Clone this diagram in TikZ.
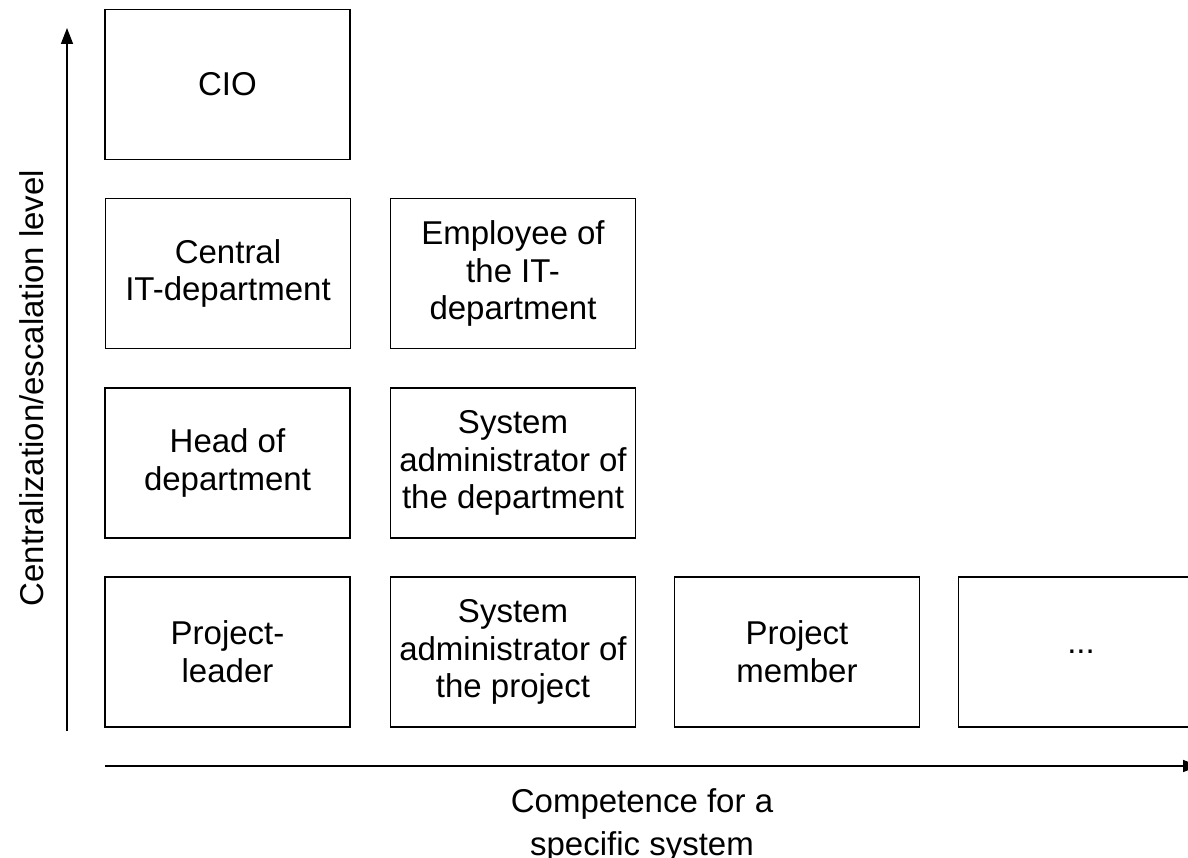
\documentclass[tikz,border=0pt]{standalone}
\usepackage{fontspec}
\setmainfont{Liberation Sans}
\usetikzlibrary{arrows.meta}
\begin{document}
\begin{tikzpicture}[x=1pt,y=-1pt,
  role/.style={draw,line width=1.6pt,minimum width=245pt,minimum height=150pt,
    inner sep=0pt,align=center,font=\fontsize{33}{37.8}\selectfont},
  axis/.style={line width=1.6pt,-{Triangle[length=16pt,width=12pt]}},
  axislabel/.style={font=\fontsize{33}{43}\selectfont,align=center}]
\useasboundingbox (0,0) rectangle (1188,858);
\clip (0,0) rectangle (1188,858);
% top row
\node[role] (cio) at (227.5,84.5) {CIO};
% second row
\node[role] (central) at (228,273.5) {Central\\IT-department};
\node[role] (employee) at (513,273.5) {Employee of\\the IT-\\department};
% third row
\node[role] (head) at (227.5,463) {Head of\\department};
\node[role] (sysdept) at (513,463) {System\\administrator of\\the department};
% bottom row
\node[role] (leader) at (227.5,652) {Project-\\leader};
\node[role] (sysproj) at (513,652) {System\\administrator of\\the project};
\node[role] (member) at (797,652) {Project\\member};
\node[role] (more) at (1081,652) {...};
% axes
\coordinate (ybase) at (67,731);
\coordinate (ytop) at (67,28);
\draw[axis] (ybase) -- (ytop);
\coordinate (xbase) at (105,766);
\coordinate (xtip) at (1199,766);
\draw[axis] (xbase) -- (xtip);
\node[axislabel,rotate=90] (ylabel) at (32,388) {Centralization/escalation level};
\node[axislabel] (xlabel) at (642,825) {Competence for a\\specific system};
\end{tikzpicture}
\end{document}
